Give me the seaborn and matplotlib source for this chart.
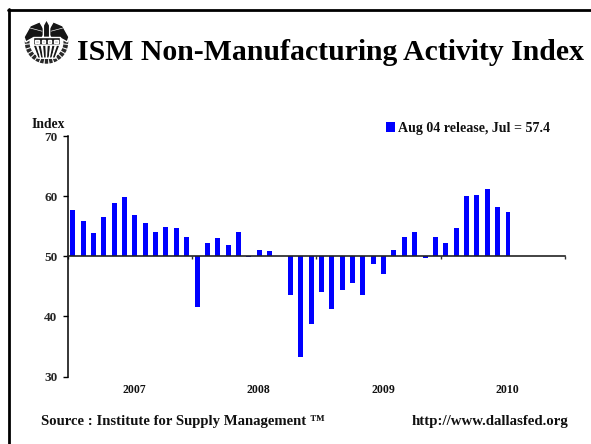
import matplotlib
matplotlib.use('Agg')
import matplotlib.pyplot as plt
import numpy as np
import pandas as pd
import seaborn as sns
from matplotlib.lines import Line2D
from matplotlib.patches import Arc, Polygon, Rectangle

# Monthly index, Jan 2007 - Jul 2010
months = pd.date_range('2007-01-01', '2010-07-01', freq='MS').strftime('%Y-%m').tolist()
index_values = [57.7, 55.9, 53.9, 56.5, 58.8, 59.8, 56.9, 55.5, 54.1, 54.9, 54.7, 53.2,
                41.6, 52.2, 53.1, 51.8, 54.1, 49.8, 51.1, 50.8, 50.1, 43.6, 33.2, 38.7,
                44.1, 41.2, 44.4, 45.6, 43.6, 48.7, 47.1, 51.1, 53.2, 54.1, 49.7, 53.2,
                52.2, 54.7, 60.0, 60.2, 61.2, 58.2, 57.4]
years = ['2007', '2008', '2009', '2010']
y_ticks = [30, 40, 50, 60, 70]
baseline = 50
legend_label = 'Aug 04 release, Jul = 57.4'
title = 'ISM Non-Manufacturing Activity Index'
source = 'Source : Institute for Supply Management \u2122'
site = 'http://www.dallasfed.org'

W, H = 591, 444

sns.set_theme(style='white')
plt.rcParams['font.family'] = ['Liberation Serif', 'DejaVu Serif']
plt.rcParams['font.weight'] = 'bold'
plt.rcParams['text.color'] = '#111111'


def px(x, y):
    return x / W, 1 - y / H


def draw_seal(fig):
    sax = fig.add_axes([24 / W, 1 - 64.5 / H, 45 / W, 45 / H])
    sax.set_xlim(-1, 1)
    sax.set_ylim(-1, 1)
    sax.axis('off')
    ink = '#161616'
    # wreath
    sax.add_patch(Arc((0, 0), 1.72, 1.72, theta1=175, theta2=365, ec='#2a2a2a', lw=3.4, ls=(0, (0.7, 0.22))))
    # wings
    sax.add_patch(Polygon([(-0.04, 0.45), (-0.3, 0.9), (-0.72, 0.72), (-1.0, 0.22), (-0.92, 0.0), (-0.6, 0.18), (-0.2, 0.18)], fc=ink))
    sax.add_patch(Polygon([(0.04, 0.45), (0.3, 0.9), (0.72, 0.72), (1.0, 0.22), (0.92, 0.0), (0.6, 0.18), (0.2, 0.18)], fc=ink))
    sax.add_patch(Polygon([(-0.14, 0.2), (-0.14, 0.74), (0, 1.0), (0.14, 0.74), (0.14, 0.2)], fc=ink))
    for side in (-1, 1):
        sax.plot([side * 0.2, side * 0.72], [0.48, 0.62], color='white', lw=0.45)
    # shield
    sax.add_patch(Rectangle((-0.62, -0.14), 1.24, 0.34, fc=ink))
    for sx in np.linspace(-0.42, 0.42, 4):
        sax.add_patch(Rectangle((sx - 0.08, -0.03), 0.16, 0.12, fc='#cccccc'))
    for sx in np.linspace(-0.52, 0.52, 6):
        sax.add_patch(Polygon([(sx - 0.08, -0.14), (sx + 0.08, -0.14), (sx * 0.6 + 0.07, -0.72), (sx * 0.6 - 0.07, -0.72)], fc=ink))


def draw_chart():
    fig = plt.figure(figsize=(W / 100, H / 100), dpi=100, facecolor='white')
    ax = fig.add_axes([67.5 / W, 1 - 376.5 / H, 497.5 / W, 240.5 / H])

    df = pd.DataFrame({'month': months, 'value': index_values})
    sns.barplot(data=df, x='month', y='value', ax=ax, color='#0000ff', saturation=1,
                width=0.48, legend=False)

    # bars hang from the 50 line
    for bar in ax.patches:
        top = bar.get_height()
        bar.set_y(baseline)
        bar.set_height(top - baseline)
        bar.set_linewidth(0)

    ax.set_ylim(30, 70)
    ax.set_xlim(-0.5, 47.5)
    ax.set_xlabel('')
    ax.set_ylabel('')
    ax.set_yticks(y_ticks)
    ax.set_yticklabels(y_ticks, fontsize=9.5, fontweight='bold')
    ax.tick_params(axis='y', left=True, length=3.3, width=1.0, color='black', pad=4)

    year_edges = np.arange(len(years) + 1) * 12 - 0.5
    ax.set_xticks(year_edges)
    ax.set_xticklabels([])
    ax.tick_params(axis='x', bottom=True, length=2.2, width=1.0, color='#333333')
    for i, year in enumerate(years):
        ax.annotate(year, (year_edges[i] + 6.45, 30), xytext=(0, -16.8 * 0.72), textcoords='offset points',
                    ha='center', va='baseline', fontsize=8.5, fontweight='bold', annotation_clip=False)

    sns.despine(ax=ax)
    ax.spines['left'].set_color('black')
    ax.spines['left'].set_linewidth(1.1)
    ax.spines['bottom'].set_position(('data', baseline))
    ax.spines['bottom'].set_color('#222222')
    ax.spines['bottom'].set_linewidth(1.2)

    handle = Rectangle((0, 0), 1, 1, fc='#0000ff', lw=0)
    ax.legend([handle], [legend_label], frameon=False, loc='center left', bbox_to_anchor=px(386, 128.5),
              bbox_transform=fig.transFigure, handlelength=0.64, handleheight=0.64, handletextpad=0.22,
              borderpad=0, borderaxespad=0, prop={'size': 10.1, 'weight': 'bold', 'family': 'Liberation Serif'})

    fig.text(*px(77, 59.5), title, fontsize=21.45, fontweight='bold', ha='left', va='baseline', color='black')
    fig.text(*px(48, 128.3), 'Index', fontsize=9.8, fontweight='bold', ha='center', va='baseline')
    fig.text(*px(41, 425), source, fontsize=10.6, fontweight='bold', ha='left', va='baseline')
    fig.text(*px(568, 425), site, fontsize=10.7, fontweight='bold', ha='right', va='baseline')

    # slide frame runs off the right and bottom edges
    fig.add_artist(Line2D([8.5 / W, 8.5 / W], [0, 1 - 9 / H], color='black', lw=2.0))
    fig.add_artist(Line2D([7.5 / W, 1], [1 - 10.3 / H, 1 - 10.3 / H], color='black', lw=2.0))

    draw_seal(fig)
    fig.savefig('out.png', dpi=100)
    return fig


draw_chart()
